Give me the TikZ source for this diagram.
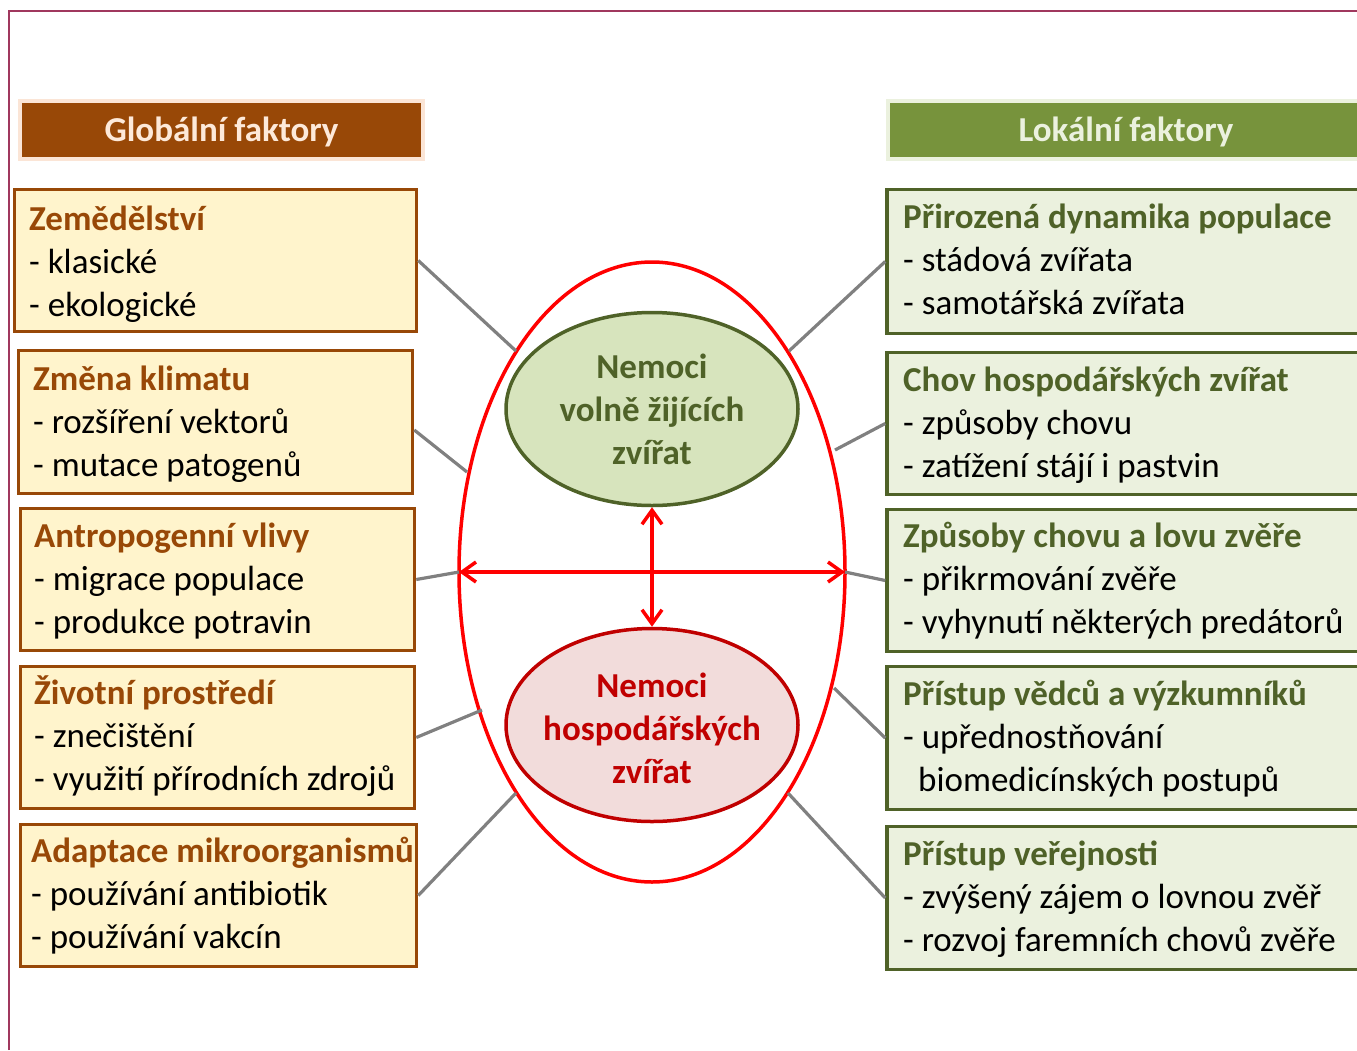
\documentclass[tikz,border=0pt]{standalone}
\usepackage{fontspec}
\setmainfont{Carlito}
\usetikzlibrary{arrows.meta,shapes.geometric}
\definecolor{brn}{HTML}{984807}
\definecolor{lfill}{HTML}{FFF4CC}
\definecolor{olv}{HTML}{4F6228}
\definecolor{rfill}{HTML}{EBF1DE}
\definecolor{ghead}{HTML}{77933C}
\definecolor{gell}{HTML}{D7E4BD}
\definecolor{rell}{HTML}{F2DCDB}
\definecolor{dred}{HTML}{C00000}
\definecolor{frm}{HTML}{A0385E}
\definecolor{glowb}{HTML}{FBE5D6}
\definecolor{glowg}{HTML}{EBF1DE}
\definecolor{peach}{HTML}{FDE9D9}
\definecolor{conng}{HTML}{808080}
\newcommand\tlines[3]{\vtop{\hbox{#1}\hbox{#2}\hbox{#3}}}
\newcommand\clines[3]{\vtop{\halign{\hfil##\hfil\cr#1\cr#2\cr#3\cr}}}
\newcommand\lhead[1]{\textcolor{brn}{\bfseries #1}}
\newcommand\rhead[1]{\textcolor{olv}{\bfseries #1}}
\begin{document}
\begin{tikzpicture}[x=1pt,y=-1pt,
  every node/.style={font=\fontsize{35}{43}\selectfont},
  lbox/.style={rectangle,draw=brn,fill=lfill,line width=3.5pt,inner sep=0pt},
  rbox/.style={rectangle,draw=olv,fill=rfill,line width=3.5pt,inner sep=0pt},
  txt/.style={anchor=base west,inner sep=0pt},
  hdr/.style={rectangle,line width=4pt,inner sep=0pt,minimum height=58pt,
    text height=29pt,text depth=6pt,font=\fontsize{35}{43}\selectfont\bfseries},
  conn/.style={draw=conng,line width=3.2pt},
  rarr/.style={draw=red,line width=3.5pt,
    {Straight Barb[length=14pt,width=20pt]}-{Straight Barb[length=14pt,width=20pt]}},
  dis/.style={ellipse,line width=3.5pt,inner sep=0pt,minimum width=292pt,minimum height=193pt}]
\useasboundingbox (0,0) rectangle (1357,1050);
\clip (0,0) rectangle (1357,1050);
\draw[frm,line width=1.3pt] (9,1050) -- (9,11) -- (1357,11);

% headers
\node[hdr,draw=glowb,fill=brn,text=peach,minimum width=403pt] (gh) at (221.5,130) {Globální faktory};
\node[hdr,draw=glowg,fill=ghead,text=glowg,minimum width=476pt] (lh) at (1126,130) {Lokální faktory};

% left boxes
\node[lbox,minimum width=402pt,minimum height=142pt] (L1) at (215.5,260.5) {};
\node[lbox,minimum width=394pt,minimum height=143pt] (L2) at (215.5,422) {};
\node[lbox,minimum width=394pt,minimum height=142pt] (L3) at (217.5,579.5) {};
\node[lbox,minimum width=394pt,minimum height=142pt] (L4) at (217.5,737.5) {};
\node[lbox,minimum width=396pt,minimum height=142pt] (L5) at (218.5,895.5) {};

\node[txt] (L1t) at (29,230) {\tlines{\lhead{Zemědělství}}{- klasické}{- ekologické}};
\node[txt] (L2t) at (33,390) {\tlines{\lhead{Změna klimatu}}{- rozšíření vektorů}{- mutace patogenů}};
\node[txt] (L3t) at (34,547) {\tlines{\lhead{Antropogenní vlivy}}{- migrace populace}{- produkce potravin}};
\node[txt] (L4t) at (34,704) {\tlines{\lhead{Životní prostředí}}{- znečištění}{- využití přírodních zdrojů}};
\node[txt] (L5t) at (31,862) {\tlines{\lhead{Adaptace mikroorganismů}}{- používání antibiotik}{- používání vakcín}};

% right boxes
\node[rbox,minimum width=480pt,minimum height=144pt] (R1) at (1127,261.5) {};
\node[rbox,minimum width=480pt,minimum height=142pt] (R2) at (1127,423.5) {};
\node[rbox,minimum width=480pt,minimum height=142pt] (R3) at (1127,580.5) {};
\node[rbox,minimum width=480pt,minimum height=143pt] (R4) at (1127,738) {};
\node[rbox,minimum width=480pt,minimum height=143pt] (R5) at (1127,898) {};

\node[txt] (R1t) at (903,228) {\tlines{\rhead{Přirozená dynamika populace}}{- stádová zvířata}{- samotářská zvířata}};
\node[txt] (R2t) at (903,391) {\tlines{\rhead{Chov hospodářských zvířat}}{- způsoby chovu}{- zatížení stájí i pastvin}};
\node[txt] (R3t) at (903,547) {\tlines{\rhead{Způsoby chovu a lovu zvěře}}{- přikrmování zvěře}{- vyhynutí některých predátorů}};
\node[txt] (R4t) at (903,705) {\tlines{\rhead{Přístup vědců a výzkumníků}}{- upřednostňování}{\hspace*{15pt}biomedicínských postupů}};
\node[txt] (R5t) at (903,865) {\tlines{\rhead{Přístup veřejnosti}}{- zvýšený zájem o lovnou zvěř}{- rozvoj faremních chovů zvěře}};

% outer ellipse
\node[ellipse,draw=red,line width=3.5pt,inner sep=0pt,outer sep=0pt,minimum width=386pt,minimum height=620pt] (egg) at (652,572) {};

% inner ellipses
\node[dis,draw=olv,fill=gell] (wild) at (652,409) {};
\node[anchor=base,inner sep=0pt,text=olv,font=\fontsize{35}{43}\selectfont\bfseries] (wildt) at (652,378) {\clines{Nemoci}{volně žijících}{zvířat}};
\node[dis,draw=dred,fill=rell] (farm) at (652,725) {};
\node[anchor=base,inner sep=0pt,text=dred,font=\fontsize{35}{43}\selectfont\bfseries] (farmt) at (652,697) {\clines{Nemoci}{hospodářských}{zvířat}};

% connector end points on the outer ellipse
\coordinate (eL1) at (516,351);
\coordinate (eL2) at (467,472);
\coordinate (eL4) at (482,710);
\coordinate (eL5) at (516,793);
\coordinate (eR1) at (789,351);
\coordinate (eR2) at (835,450);
\coordinate (eR4) at (834,688);
\coordinate (eR5) at (788,793);

\draw[conn] (L1.east) -- (eL1);
\draw[conn] ([yshift=-8pt]L2.east) -- (eL2);
\draw[conn] (L3.east) -- (egg.west);
\draw[conn] (L4.east) -- (eL4);
\draw[conn] (L5.east) -- (eL5);
\draw[conn] (R1.west) -- (eR1);
\draw[conn] (R2.west) -- (eR2);
\draw[conn] (R3.west) -- (egg.east);
\draw[conn] (R4.west) -- (eR4);
\draw[conn] (R5.west) -- (eR5);

% arrows
\draw[rarr] (egg.west) -- (egg.east);
\draw[rarr] (wild.south) -- (farm.north);
\end{tikzpicture}
\end{document}
